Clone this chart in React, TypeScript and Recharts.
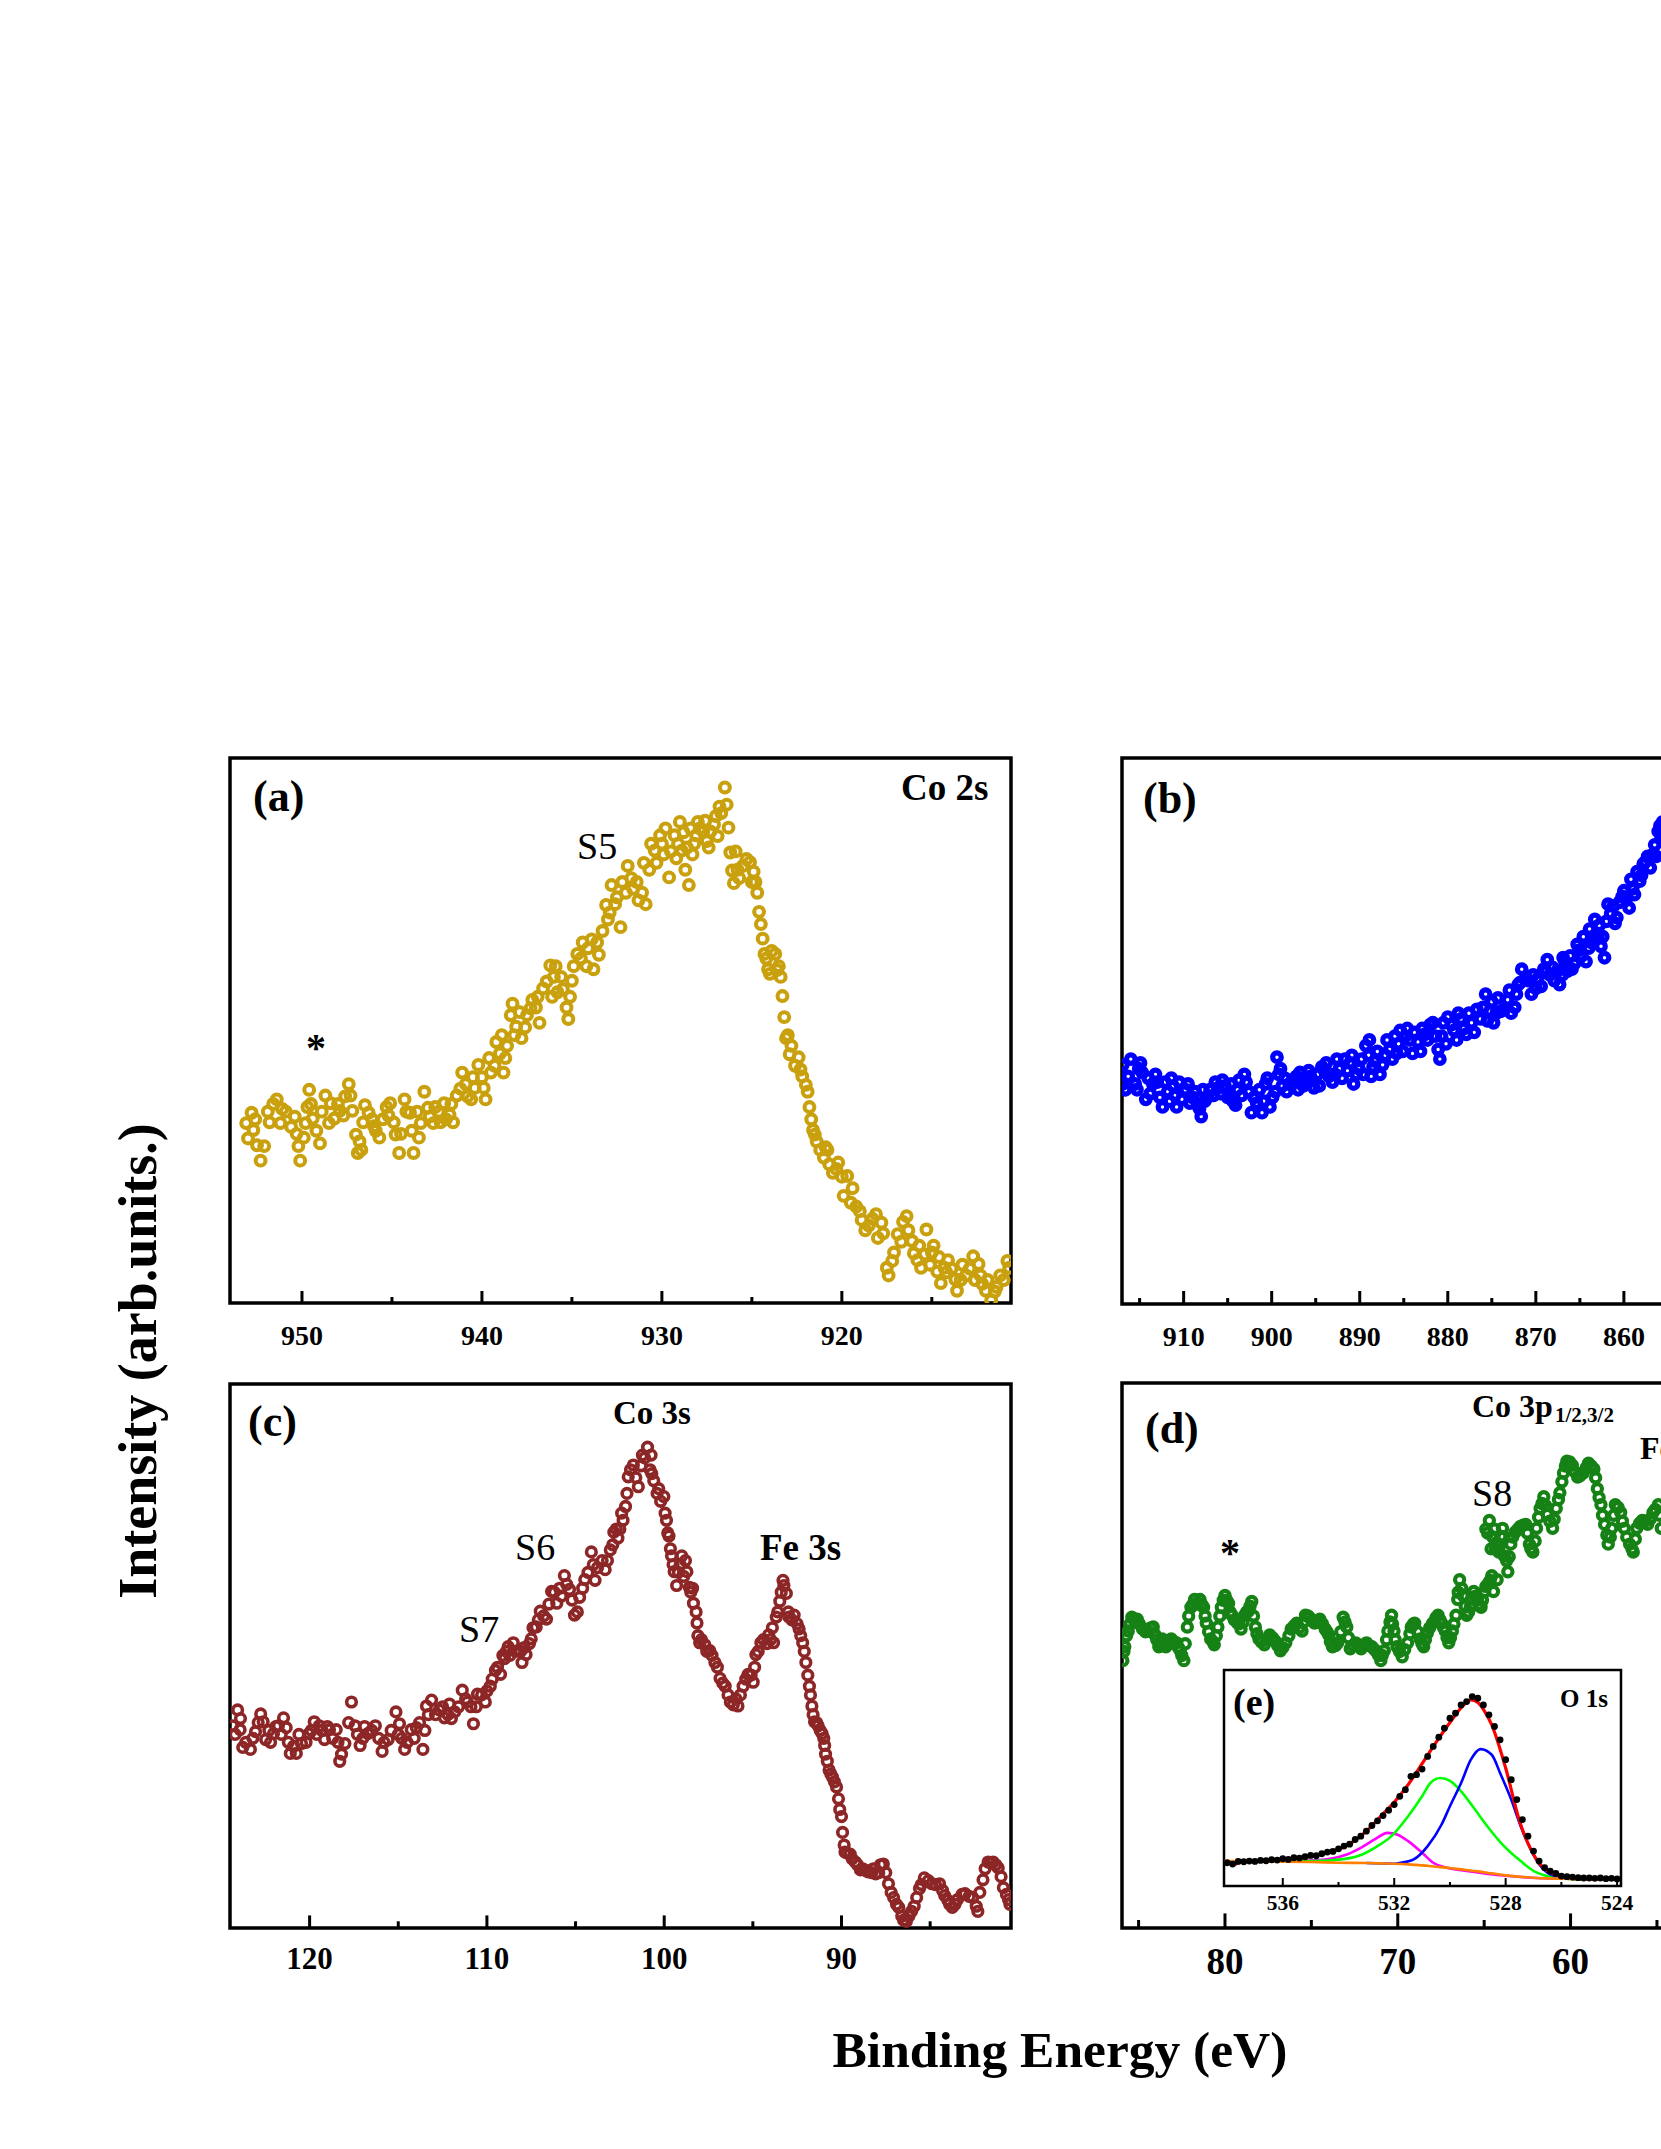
import React from "react";
import {
  ComposedChart,
  Line,
  ReferenceArea,
  Scatter,
  ScatterChart,
  XAxis,
  YAxis,
} from "recharts";

const SERIF = '"Liberation Serif", "Times New Roman", Times, serif';

type Pt = [number, number];

// (a) Co 2s — [binding energy eV, intensity arb.u.]
const CO2S: Pt[] = [
  [953.1, 470], [952.8, 497], [952.7, 452], [952.5, 412], [952.3, 372], [951.8, 472], [951.4, 532], [951.1, 507],
  [950.4, 487], [950.3, 442], [950.1, 372], [949.9, 432], [949.7, 512], [949.6, 557], [949.4, 482], [949.0, 417],
  [948.7, 542], [948.4, 522], [948.2, 482], [947.9, 502], [947.4, 572], [947.3, 542], [947.2, 502], [946.9, 392],
  [946.8, 422], [946.6, 472], [946.5, 517], [946.3, 497], [946.0, 462], [945.7, 432], [945.3, 512], [945.1, 522],
  [944.9, 472], [944.6, 392], [944.5, 442], [944.3, 532], [944.0, 497], [943.8, 392], [943.5, 432], [943.2, 552],
  [942.9, 487], [942.6, 512], [942.3, 472], [942.1, 522], [941.8, 492], [941.6, 472], [941.4, 542], [941.1, 602],
  [940.9, 572], [940.6, 532], [940.4, 562], [940.2, 622], [939.9, 562], [939.8, 532], [939.5, 602], [939.2, 682],
  [939.0, 652], [938.8, 602], [938.6, 672], [938.4, 752], [938.3, 782], [938.1, 722], [937.8, 692], [937.5, 752],
  [937.2, 792], [937.0, 772], [936.8, 732], [936.6, 822], [936.2, 882], [936.0, 852], [935.8, 812], [935.6, 852],
  [935.3, 772], [935.2, 742], [935.0, 842], [934.7, 912], [934.4, 942], [934.1, 927], [933.8, 872], [933.6, 942],
  [933.3, 972], [933.0, 1002], [932.8, 1092], [932.6, 1042], [932.3, 982], [932.0, 1072], [931.9, 1142], [931.6, 1082],
  [931.3, 1052], [931.1, 1072], [930.9, 1042], [930.7, 1132], [930.4, 1182], [930.1, 1222], [929.9, 1172], [929.6, 1112],
  [929.3, 1222], [929.2, 1162], [929.0, 1257], [928.9, 1182], [928.7, 1132], [928.5, 1092], [928.3, 1172], [928.1, 1222],
  [928.0, 1257], [927.7, 1232], [927.5, 1207], [927.3, 1232], [927.0, 1272], [926.8, 1297], [926.5, 1347], [926.4, 1302],
  [926.3, 1242], [926.2, 1177], [926.0, 1097], [925.8, 1132], [925.5, 1142], [925.1, 1152], [924.9, 1127], [924.7, 1072],
  [924.6, 1022], [924.4, 952], [924.3, 912], [924.1, 872], [923.7, 912], [923.4, 852], [923.3, 802], [923.2, 747],
  [923.1, 692], [922.8, 672], [922.4, 642], [922.2, 592], [921.9, 552], [921.8, 512], [921.6, 452], [921.4, 422],
  [920.9, 407], [920.7, 362], [920.2, 367], [919.7, 332], [919.5, 262], [919.2, 252], [918.9, 217], [918.5, 202],
  [918.1, 232], [917.7, 182], [917.5, 92], [917.4, 72], [917.1, 132], [916.6, 212], [916.4, 227], [916.1, 162],
  [915.8, 112], [915.6, 92], [915.4, 127], [915.3, 192], [915.0, 132], [914.7, 82], [914.5, 52], [914.3, 92],
  [914.1, 112], [913.7, 62], [913.6, 32], [913.1, 72], [912.7, 122], [912.4, 102], [912.3, 72], [912.0, 32],
  [911.7, 7], [911.4, 42], [911.2, 72], [910.7, 92],
  [953.0, 430], [952.6, 480], [952.1, 410], [951.9, 500], [951.6, 520], [951.2, 470], [950.9, 500], [950.6, 460],
  [950.2, 410], [949.8, 470], [949.5, 520], [949.2, 450], [948.9, 500], [948.5, 470], [948.0, 520], [947.7, 490],
  [947.6, 540], [947.0, 440], [946.7, 400], [946.1, 480], [945.9, 450], [945.5, 480], [945.2, 490], [944.8, 440],
  [944.2, 500], [943.9, 450], [943.6, 500], [943.4, 470], [943.0, 510], [942.7, 470], [942.4, 500], [942.0, 480],
  [941.7, 520], [941.2, 560], [940.8, 540], [940.5, 590], [940.0, 590], [939.6, 640], [939.3, 620], [938.9, 700],
  [938.7, 640], [938.2, 700], [937.9, 760], [937.6, 720], [937.3, 770], [936.9, 800], [936.4, 840], [936.1, 800],
  [935.9, 880], [935.5, 820], [935.1, 800], [934.9, 880], [934.5, 900], [934.2, 880], [933.9, 950], [933.5, 910],
  [933.1, 1040], [932.9, 1020], [932.5, 1060], [932.2, 1100], [931.7, 1110], [931.4, 1100], [931.0, 1150], [930.6, 1200],
  [930.3, 1150], [930.0, 1200], [929.8, 1240], [929.5, 1180], [929.1, 1200], [928.8, 1230], [928.6, 1190], [928.4, 1240],
  [928.2, 1200], [927.9, 1240], [927.6, 1260], [927.4, 1190], [927.1, 1250], [926.9, 1220], [926.7, 1280], [926.1, 1130],
  [925.9, 1180], [925.7, 1110], [925.3, 1160], [925.0, 1100], [924.8, 1100], [924.5, 990], [924.2, 900], [924.0, 860],
  [923.9, 920], [923.6, 870], [923.5, 880], [923.0, 700], [922.9, 650], [922.6, 620], [922.3, 610], [922.0, 570],
  [921.7, 480], [921.5, 440], [921.2, 400], [921.0, 380], [920.8, 400], [920.5, 340], [920.3, 350], [920.0, 330],
  [919.9, 280], [919.4, 300], [919.0, 240], [918.7, 190], [918.3, 220], [918.0, 170], [917.8, 210], [917.2, 110],
  [916.9, 180], [916.7, 160], [916.3, 190], [916.0, 130], [915.7, 150], [915.1, 100], [914.9, 150], [914.6, 120],
  [914.2, 80], [913.9, 90], [913.4, 60], [913.3, 100], [912.9, 90], [912.6, 60], [912.2, 50], [911.9, 60],
  [911.5, 30], [911.0, 60], [910.8, 110],
];

// (b) Co 2p region, cut at the page edge
const CO2P: Pt[] = [
  [916.9, 625], [916.9, 575], [916.3, 595], [915.5, 575], [915.1, 615], [914.7, 605], [914.3, 535], [913.5, 575],
  [913.0, 580], [912.4, 515], [911.8, 555], [911.4, 590], [911.0, 545], [910.8, 515], [909.8, 560], [909.0, 540],
  [908.4, 520], [908.0, 490], [907.6, 530], [907.0, 560], [906.1, 565], [905.3, 570], [904.9, 550], [904.1, 520],
  [903.7, 585], [902.9, 580], [902.3, 500], [901.7, 525], [901.1, 500], [900.7, 575], [900.2, 515], [899.6, 555],
  [899.4, 645], [899.0, 615], [898.8, 570], [898.0, 575], [897.2, 595], [896.4, 570], [895.6, 595], [895.2, 565],
  [894.3, 620], [893.5, 595], [893.1, 580], [892.3, 615], [891.7, 640], [891.1, 630], [890.7, 575], [890.1, 615],
  [889.3, 675], [888.7, 595], [888.3, 635], [887.4, 625], [886.6, 665], [885.8, 655], [885.4, 715], [884.6, 720],
  [884.0, 655], [883.4, 685], [882.6, 705], [881.7, 735], [881.1, 665], [880.9, 640], [880.5, 735], [879.3, 715],
  [878.5, 745], [877.9, 705], [877.3, 735], [876.3, 745], [875.7, 810], [875.2, 765], [874.8, 735], [874.0, 765],
  [873.2, 795], [872.4, 775], [872.0, 835], [871.6, 875], [870.8, 845], [870.0, 825], [869.1, 875], [868.7, 900],
  [867.9, 845], [867.3, 835], [866.7, 895], [865.9, 875], [865.1, 925], [864.3, 895], [863.7, 945], [863.3, 1005],
  [862.6, 935], [862.2, 905], [861.8, 1045], [861.0, 995], [860.2, 1065], [859.4, 1035], [859.0, 1085], [858.2, 1105],
  [857.6, 1155], [856.7, 1175], [856.1, 1235], [855.8, 1225],
  [916.6, 560], [916.0, 640], [915.3, 560], [914.9, 630], [914.0, 590], [913.8, 550], [913.2, 600], [912.7, 540],
  [912.1, 580], [911.6, 530], [911.2, 570], [910.5, 580], [910.2, 535], [909.5, 575], [909.3, 525], [908.7, 555],
  [908.2, 510], [907.8, 560], [907.3, 540], [906.6, 545], [906.4, 580], [905.8, 550], [905.6, 585], [905.0, 540],
  [904.6, 575], [904.4, 530], [903.9, 560], [903.4, 545], [903.1, 600], [902.6, 555], [902.0, 540], [901.4, 560],
  [900.9, 530], [900.5, 590], [899.9, 540], [899.2, 600], [898.5, 590], [898.3, 555], [897.6, 580], [897.0, 560],
  [896.8, 605], [896.0, 580], [895.8, 610], [895.4, 585], [894.8, 600], [894.6, 570], [894.0, 610], [893.8, 630],
  [893.3, 600], [892.8, 600], [892.6, 640], [892.0, 590], [891.4, 610], [890.9, 650], [890.4, 600], [889.8, 640],
  [889.6, 600], [889.0, 650], [888.9, 690], [888.5, 620], [888.0, 660], [887.7, 600], [887.1, 650], [886.9, 690],
  [886.3, 640], [886.0, 700], [885.6, 680], [885.1, 660], [884.8, 700], [884.3, 690], [883.8, 710], [883.1, 660],
  [882.9, 720], [882.3, 690], [882.0, 730], [881.4, 700], [880.7, 700], [880.2, 680], [880.0, 750], [879.6, 730],
  [879.0, 690], [878.8, 760], [878.2, 720], [877.6, 760], [877.0, 710], [876.7, 770], [876.0, 775], [875.5, 740],
  [875.0, 790], [874.5, 760], [874.3, 800], [873.6, 770], [873.0, 820], [872.8, 760], [872.2, 810], [871.8, 840],
  [871.2, 850], [870.5, 810], [870.3, 860], [869.8, 850], [869.4, 830], [868.9, 870], [868.4, 860], [868.1, 880],
  [867.6, 870], [867.0, 860], [866.9, 905], [866.4, 870], [866.1, 910], [865.6, 890], [865.3, 940], [864.8, 910],
  [864.6, 960], [864.0, 930], [863.9, 980], [863.5, 960], [863.0, 960], [862.8, 990], [862.4, 960], [862.0, 1000],
  [861.5, 1020], [861.2, 1040], [860.8, 1010], [860.5, 1050], [860.0, 1080], [859.7, 1060], [859.2, 1110], [858.8, 1070],
  [858.5, 1130], [858.0, 1120], [857.8, 1150], [857.3, 1170], [857.0, 1140], [856.5, 1200], [856.3, 1170], [855.9, 1250],
  [855.6, 1260],
];

// (c) Co 3s / Fe 3s
const CO3S: Pt[] = [
  [124.35, 512], [124.06, 552], [123.92, 502], [123.77, 457], [123.34, 452], [123.05, 497], [122.76, 542], [122.62, 522],
  [122.48, 477], [122.04, 492], [121.76, 512], [121.47, 532], [121.32, 507], [121.09, 442], [120.75, 442], [120.46, 467],
  [120.03, 492], [119.74, 522], [119.45, 512], [119.16, 477], [118.88, 502], [118.5, 502], [118.3, 422], [118.01, 467],
  [117.64, 572], [117.44, 512], [117.15, 462], [116.72, 492], [116.29, 512], [115.91, 447], [115.57, 477], [115.13, 547],
  [114.93, 517], [114.64, 452], [114.27, 502], [113.98, 507], [113.61, 452], [113.41, 562], [113.12, 577], [112.69, 552],
  [112.4, 532], [112.11, 567], [111.82, 547], [111.39, 602], [111.1, 572], [110.76, 517], [110.53, 592], [110.09, 572],
  [109.81, 612], [109.52, 652], [109.23, 642], [109.0, 682], [108.8, 712], [108.51, 722], [108.22, 702], [108.02, 672],
  [107.79, 692], [107.5, 732], [107.22, 762], [106.99, 802], [106.64, 782], [106.35, 852], [106.06, 822], [105.63, 892],
  [105.34, 857], [105.06, 792], [104.77, 837], [104.48, 882], [104.11, 952], [103.76, 912], [103.33, 907], [103.04, 957],
  [102.84, 1002], [102.61, 987], [102.32, 1032], [102.18, 1067], [102.03, 1142], [101.74, 1172], [101.46, 1117], [101.23, 1197],
  [100.94, 1217], [100.74, 1197], [100.59, 1132], [100.31, 1112], [100.02, 1092], [99.87, 1032], [99.73, 992], [99.59, 942],
  [99.44, 902], [99.3, 867], [99.01, 942], [98.72, 902], [98.58, 862], [98.35, 822], [98.15, 772], [98.0, 722],
  [97.71, 717], [97.43, 702], [97.14, 672], [96.85, 632], [96.56, 612], [96.27, 572], [95.84, 562], [95.55, 612],
  [95.27, 642], [94.98, 622], [94.83, 692], [94.55, 722], [94.11, 742], [93.83, 722], [93.68, 787], [93.48, 827],
  [93.25, 867], [93.11, 847], [92.96, 787], [92.67, 792], [92.39, 757], [92.19, 722], [92.01, 672], [91.81, 612],
  [91.67, 562], [91.52, 522], [91.32, 512], [91.09, 492], [90.95, 462], [90.8, 422], [90.51, 382], [90.28, 357],
  [90.17, 327], [90.0, 282], [89.94, 242], [89.8, 192], [89.51, 187], [89.22, 167], [88.93, 147], [88.5, 142],
  [88.07, 137], [87.64, 162], [87.35, 112], [87.06, 77], [86.77, 52], [86.34, 17], [86.05, 42], [85.76, 77],
  [85.33, 127], [84.9, 112], [84.47, 112], [84.18, 82], [83.75, 52], [83.46, 72], [83.03, 87], [82.6, 77],
  [82.31, 42], [82.02, 122], [81.73, 167], [81.45, 167], [81.16, 152], [80.87, 102], [80.58, 72],
  [124.2, 490], [123.9, 530], [123.6, 470], [123.2, 480], [122.9, 520], [122.3, 500], [122.2, 470], [121.9, 510],
  [121.6, 490], [121.2, 470], [120.9, 460], [120.6, 490], [120.2, 470], [119.9, 500], [119.6, 490], [119.3, 500],
  [119.0, 510], [118.7, 480], [118.4, 470], [118.2, 440], [117.8, 520], [117.3, 490], [117.0, 480], [116.9, 510],
  [116.5, 500], [116.1, 480], [115.8, 470], [115.4, 500], [115.0, 490], [114.8, 480], [114.5, 470], [114.1, 480],
  [113.8, 520], [113.5, 500], [113.3, 540], [112.9, 540], [112.5, 560], [112.2, 540], [112.0, 530], [111.6, 560],
  [111.2, 580], [110.9, 560], [110.6, 560], [110.3, 590], [110.0, 600], [109.7, 630], [109.4, 660], [109.1, 690],
  [108.9, 700], [108.7, 690], [108.4, 700], [108.1, 700], [107.9, 710], [107.6, 720], [107.4, 760], [107.1, 780],
  [106.8, 790], [106.5, 820], [106.2, 850], [105.9, 860], [105.8, 840], [105.5, 870], [105.2, 830], [104.9, 800],
  [104.6, 860], [104.3, 900], [104.0, 920], [103.9, 880], [103.5, 930], [103.2, 930], [102.9, 970], [102.7, 1010],
  [102.5, 1010], [102.4, 1050], [102.1, 1100], [101.9, 1160], [101.6, 1140], [101.3, 1170], [101.1, 1190], [100.8, 1160],
  [100.7, 1150], [100.4, 1100], [100.2, 1080], [99.95, 1050], [99.8, 1000], [99.65, 960], [99.5, 920], [99.2, 900],
  [99.1, 920], [98.9, 890], [98.8, 930], [98.5, 850], [98.4, 860], [98.2, 800], [98.1, 740], [97.9, 730],
  [97.6, 700], [97.3, 690], [97.0, 660], [96.7, 620], [96.4, 590], [96.1, 565], [95.95, 580], [95.7, 590],
  [95.4, 630], [95.1, 640], [94.9, 660], [94.7, 700], [94.4, 730], [94.2, 720], [94.0, 730], [93.9, 760],
  [93.6, 800], [93.4, 850], [93.3, 880], [93.0, 800], [92.8, 780], [92.5, 770], [92.3, 740], [92.1, 700],
  [91.9, 640], [91.75, 590], [91.6, 540], [91.4, 520], [91.2, 500], [91.0, 480], [90.9, 440], [90.7, 400],
  [90.6, 390], [90.4, 370], [90.1, 300], [89.85, 210], [89.7, 190], [89.4, 175], [89.1, 160], [88.8, 150],
  [88.6, 145], [88.3, 140], [88.2, 150], [87.9, 140], [87.8, 160], [87.5, 140], [87.2, 90], [86.9, 60],
  [86.6, 30], [86.5, 20], [86.2, 30], [85.9, 55], [85.6, 100], [85.5, 110], [85.1, 120], [84.7, 110],
  [84.3, 95], [84.0, 70], [83.9, 60], [83.6, 60], [83.2, 85], [82.8, 80], [82.4, 55], [82.2, 90],
  [81.9, 150], [81.6, 165], [81.3, 160], [81.0, 130], [80.7, 85], [80.5, 60],
];

// (d) Co 3p / Fe 3p
const CO3P: Pt[] = [
  [85.91, 677], [85.8, 712], [85.6, 752], [85.39, 787], [85.08, 782], [84.77, 757], [84.46, 752], [84.15, 762],
  [84.04, 742], [83.83, 712], [83.63, 732], [83.42, 712], [83.11, 732], [82.8, 722], [82.59, 702], [82.38, 677],
  [82.18, 762], [81.97, 812], [81.76, 832], [81.45, 832], [81.24, 812], [81.08, 772], [80.83, 732], [80.62, 717],
  [80.41, 762], [80.21, 812], [80.0, 842], [79.79, 822], [79.59, 792], [79.27, 772], [79.07, 757], [78.86, 792],
  [78.65, 802], [78.45, 827], [78.24, 762], [78.03, 732], [77.72, 717], [77.41, 742], [77.1, 727], [76.79, 702],
  [76.48, 722], [76.17, 757], [75.85, 772], [75.54, 752], [75.34, 792], [75.13, 787], [74.82, 772], [74.51, 782],
  [74.2, 757], [73.99, 742], [73.78, 712], [73.47, 722], [73.16, 787], [72.95, 762], [72.75, 707], [72.44, 722],
  [72.12, 707], [71.81, 722], [71.5, 712], [71.19, 697], [70.98, 677], [70.78, 702], [70.57, 752], [70.36, 792],
  [70.22, 752], [70.05, 712], [69.74, 687], [69.43, 722], [69.22, 762], [69.02, 772], [68.7, 732], [68.5, 712],
  [68.29, 747], [67.98, 772], [67.67, 792], [67.46, 772], [67.25, 752], [67.05, 722], [66.84, 752], [66.63, 792],
  [66.53, 832], [66.42, 882], [66.22, 842], [66.01, 792], [65.8, 812], [65.6, 852], [65.39, 832], [65.18, 812],
  [64.97, 852], [64.77, 872], [64.56, 892], [64.46, 852], [64.25, 882], [64.8, 1000], [64.7, 1032], [64.6, 960],
  [64.4, 1010], [64.3, 975], [64.15, 952], [64.04, 992], [63.94, 1012], [63.83, 942], [63.63, 902], [63.46, 972],
  [63.21, 1002], [62.9, 1017], [62.59, 1022], [62.38, 972], [62.18, 952], [61.97, 1012], [61.76, 1062], [61.55, 1092],
  [61.35, 1047], [61.04, 1012], [60.83, 1062], [60.62, 1102], [60.41, 1152], [60.21, 1182], [59.9, 1172], [59.59, 1142],
  [59.27, 1152], [58.96, 1177], [58.65, 1162], [58.45, 1112], [58.24, 1072], [58.03, 1022], [57.82, 972], [57.62, 1012],
  [57.41, 1072], [57.1, 1052], [56.89, 1012], [56.58, 972], [56.37, 952], [56.17, 1012], [55.85, 1032], [55.54, 1022],
  [55.23, 1052], [54.92, 1072], [54.75, 1012],
  [85.85, 700], [85.7, 740], [85.5, 770], [85.25, 780], [84.95, 770], [84.6, 750], [84.3, 760], [83.95, 730],
  [83.7, 720], [83.5, 725], [83.25, 720], [82.95, 725], [82.7, 710], [82.5, 690], [82.3, 720], [82.1, 790],
  [81.85, 820], [81.6, 820], [81.35, 820], [81.15, 790], [80.95, 750], [80.7, 725], [80.5, 740], [80.3, 790],
  [80.1, 830], [79.9, 830], [79.7, 800], [79.45, 780], [79.2, 770], [78.95, 775], [78.75, 800], [78.55, 815],
  [78.35, 790], [78.15, 745], [77.9, 725], [77.55, 730], [77.25, 735], [76.95, 715], [76.65, 710], [76.3, 740],
  [76.0, 765], [75.7, 760], [75.45, 775], [75.2, 790], [74.95, 780], [74.65, 775], [74.35, 770], [74.1, 750],
  [73.9, 725], [73.6, 715], [73.3, 750], [73.05, 775], [72.85, 735], [72.6, 715], [72.3, 715], [71.95, 715],
  [71.65, 715], [71.35, 705], [71.1, 690], [70.9, 690], [70.65, 730], [70.45, 775], [70.3, 770], [70.15, 730],
  [69.9, 700], [69.6, 705], [69.3, 745], [69.1, 770], [68.85, 750], [68.6, 720], [68.4, 730], [68.15, 760],
  [67.8, 785], [67.55, 780], [67.35, 760], [67.15, 735], [66.95, 735], [66.75, 770], [66.5, 850], [66.3, 860],
  [66.1, 815], [65.9, 800], [65.7, 835], [65.5, 840], [65.3, 820], [65.1, 830], [64.9, 865], [64.65, 880],
  [64.9, 1010], [64.5, 990], [64.35, 960], [64.1, 970], [63.9, 990], [63.7, 930], [63.55, 940], [63.35, 990],
  [63.05, 1010], [62.75, 1020], [62.5, 1000], [62.3, 960], [62.05, 980], [61.85, 1040], [61.65, 1075], [61.45, 1070],
  [61.2, 1030], [60.95, 1035], [60.7, 1085], [60.5, 1130], [60.3, 1170], [60.05, 1180], [59.75, 1155], [59.45, 1145],
  [59.1, 1165], [58.8, 1170], [58.55, 1140], [58.35, 1090], [58.15, 1045], [57.9, 995], [57.7, 990], [57.5, 1045],
  [57.25, 1065], [57.0, 1030], [56.75, 990], [56.45, 960], [56.25, 985], [56.0, 1025], [55.7, 1030], [55.4, 1035],
  [55.1, 1060], [54.85, 1045],
];

// (e) O 1s inset: measured points, fit envelope, three components, background
const O1S_DATA: Pt[] = [
  [538.0, 70], [537.8, 66], [537.6, 74], [537.4, 73], [537.2, 75], [537.0, 74], [536.8, 77], [536.6, 76],
  [536.4, 79], [536.2, 78], [536.0, 82], [535.8, 80], [535.6, 85], [535.4, 84], [535.2, 88], [535.0, 92],
  [534.8, 91], [534.6, 97], [534.4, 102], [534.2, 104], [534.0, 112], [533.8, 120], [533.6, 126], [533.4, 140],
  [533.2, 150], [533.0, 165], [532.8, 182], [532.6, 196], [532.4, 212], [532.2, 228], [532.0, 245], [531.8, 270],
  [531.6, 290], [531.4, 330], [531.2, 335], [531.0, 352], [530.8, 390], [530.6, 420], [530.4, 448], [530.2, 475],
  [530.0, 505], [529.8, 520], [529.6, 545], [529.4, 555], [529.2, 570], [529.0, 565], [528.8, 545], [528.6, 515],
  [528.4, 480], [528.2, 440], [528.0, 380], [527.8, 320], [527.6, 260], [527.4, 200], [527.2, 150], [527.0, 105],
  [526.8, 75], [526.6, 55], [526.4, 45], [526.2, 38], [526.0, 30], [525.8, 28], [525.6, 27], [525.4, 25],
  [525.2, 24], [525.0, 24], [524.8, 23], [524.6, 24], [524.4, 22], [524.2, 23], [524.0, 21],
];
const O1S_FIT: Pt[] = [
  [538.1, 72], [537.9, 70], [537.7, 66], [537.5, 74], [537.0, 76], [536.5, 78], [536.0, 81], [535.5, 84],
  [535.0, 89], [534.5, 97], [534.0, 110], [533.5, 132], [533.0, 165], [532.5, 208], [532.0, 252], [531.5, 305],
  [531.0, 368], [530.5, 432], [530.0, 492], [529.5, 545], [529.25, 560], [529.0, 552], [528.75, 525], [528.5, 485],
  [528.0, 355], [527.5, 195], [527.0, 95], [526.5, 45], [526.0, 30], [525.5, 24], [525.0, 22], [524.5, 21], [523.9, 20],
];
const O1S_LATTICE: Pt[] = [
  [533.0, 69], [532.0, 67], [531.76, 70], [531.3, 80], [530.8, 120], [530.3, 185], [530.0, 240], [529.6, 310],
  [529.25, 380], [528.9, 412], [528.5, 395], [528.2, 340], [527.8, 260], [527.46, 180], [527.1, 110], [526.75, 60],
  [526.4, 35], [525.9, 25], [525.3, 20], [523.9, 20],
];
const O1S_DEFECT: Pt[] = [
  [536.06, 75], [534.9, 75], [533.9, 80], [533.3, 90], [532.7, 115], [532.1, 150], [531.5, 210], [531.0, 270],
  [530.7, 310], [530.35, 325], [529.97, 315], [529.6, 285], [529.1, 230], [528.66, 180], [528.06, 120], [527.46, 75],
  [526.99, 45], [526.5, 30], [525.9, 23], [525.3, 20], [523.9, 20],
];
const O1S_HYDROXYL: Pt[] = [
  [536.06, 75], [534.9, 77], [534.3, 82], [533.7, 95], [533.2, 115], [532.7, 140], [532.24, 160], [531.9, 155],
  [531.5, 135], [531.0, 100], [530.6, 70], [530.1, 55], [529.4, 45], [528.7, 37], [527.9, 30], [527.1, 25], [526.0, 22],
];
const O1S_BG: Pt[] = [
  [538.1, 75], [537.0, 74], [536.0, 73], [535.0, 72], [534.0, 70], [533.0, 69], [532.5, 68], [532.0, 67],
  [531.5, 65], [531.0, 62], [530.5, 58], [530.0, 54], [529.5, 49], [529.0, 44], [528.5, 38], [528.0, 32],
  [527.5, 28], [527.0, 25], [526.5, 23], [526.0, 22], [525.0, 20], [523.9, 20],
];

// tick values (only the ones that fall inside the page)
const A_X_MAJOR = [950, 940, 930, 920];
const A_X_MINOR = [945, 935, 925, 915];
const A_Y_MAJOR = [210, 420, 630, 840, 1050, 1260];
const A_Y_MINOR = [105, 315, 525, 735, 945, 1155, 1365];
const B_X_MAJOR = [910, 900, 890, 880, 870, 860];
const B_X_MINOR = [915, 905, 895, 885, 875, 865];
const B_Y_MAJOR = [225, 447, 670, 892, 1115, 1340];
const B_Y_MINOR = [115, 335, 557, 780, 1003, 1225];
const C_X_MAJOR = [120, 110, 100, 90];
const C_X_MINOR = [115, 105, 95, 85];
const C_Y_MAJOR = [109, 309, 510, 712, 914, 1115, 1317];
const D_X_MAJOR = [80, 70, 60];
const D_X_MINOR = [85, 75, 65, 55];
const D_Y_MAJOR = [52, 290, 527, 764, 1002, 1237];
const E_X_MAJOR = [536, 532, 528, 524];
const E_X_MINOR = [534, 530, 526];
const E_Y_MINOR = [55, 144, 233, 323, 412, 502, 592];

const xy = (pts: Pt[]) => pts.map(([x, y]) => ({ x, y }));

type TickCfg = { major: number[]; majLen: number; minLen: number; sw: number; font: number; dy: number };

const xTick = (c: TickCfg) => (t: any) => {
  const v = t.payload.value;
  const isMajor = c.major.includes(v);
  return (
    <g>
      <line x1={t.x} x2={t.x} y1={t.y} y2={t.y - (isMajor ? c.majLen : c.minLen)} stroke="#000" strokeWidth={c.sw} />
      {isMajor ? (
        <text x={t.x} y={t.y + c.dy} textAnchor="middle" dominantBaseline="central"
          fontFamily={SERIF} fontWeight={700} fontSize={c.font} fill="#000">{v}</text>
      ) : null}
    </g>
  );
};

const yTick = (c: TickCfg) => (t: any) => {
  const isMajor = c.major.includes(t.payload.value);
  return (
    <line x1={t.x} x2={t.x + (isMajor ? c.majLen : c.minLen)} y1={t.y} y2={t.y} stroke="#000" strokeWidth={c.sw} />
  );
};

type PanelProps = {
  left: number; top: number; w: number; h: number;
  xDomain: [number, number]; yMax: number;
  xMajor: number[]; xMinor: number[]; yMajor: number[]; yMinor: number[];
  xLen: [number, number]; yLen: [number, number];
  font: number; dy: number;
  data: Pt[]; color: string; r: number; sw: number;
};

function Panel(p: PanelProps) {
  const M = 8;
  const axisH = 60;
  return (
    <div style={{ position: "absolute", left: p.left - M, top: p.top - M }}>
      <ScatterChart width={p.w + 2 * M} height={p.h + 2 * M + axisH} margin={{ top: M, right: M, bottom: M, left: M }}>
        <XAxis type="number" dataKey="x" domain={p.xDomain} reversed allowDataOverflow
          ticks={[...p.xMajor, ...p.xMinor]} interval={0} axisLine={false} tickLine={false}
          tickSize={0} tickMargin={0} height={axisH}
          tick={xTick({ major: p.xMajor, majLen: p.xLen[0], minLen: p.xLen[1], sw: 3, font: p.font, dy: p.dy })} />
        <YAxis type="number" dataKey="y" domain={[0, p.yMax]} allowDataOverflow
          ticks={[...p.yMajor, ...p.yMinor]} interval={0} axisLine={false} tickLine={false}
          tickSize={0} tickMargin={0} width={0}
          tick={yTick({ major: p.yMajor, majLen: p.yLen[0], minLen: p.yLen[1], sw: 3, font: 0, dy: 0 })} />
        <ReferenceArea x1={p.xDomain[0]} x2={p.xDomain[1]} y1={0} y2={p.yMax}
          fill="none" stroke="#000" strokeWidth={3.5} ifOverflow="visible" />
        <Scatter data={xy(p.data)} isAnimationActive={false}
          shape={(s: any) => <circle cx={s.cx} cy={s.cy} r={p.r} fill="none" stroke={p.color} strokeWidth={p.sw} />} />
      </ScatterChart>
    </div>
  );
}

function Inset() {
  const left = 1224, top = 1670, w = 397, h = 216;
  const M = 6, R = 30, axisH = 40;
  const xDomain: [number, number] = [523.86, 538.11];
  return (
    <>
      <div style={{ position: "absolute", left, top, width: w, height: h, background: "#fff" }} />
      <div style={{ position: "absolute", left: left - M, top: top - M }}>
        <ComposedChart width={w + M + R} height={h + 2 * M + axisH} margin={{ top: M, right: R, bottom: M, left: M }}>
          <XAxis type="number" dataKey="x" domain={xDomain} reversed allowDataOverflow
            ticks={[...E_X_MAJOR, ...E_X_MINOR]} interval={0} axisLine={false} tickLine={false}
            tickSize={0} tickMargin={0} height={axisH}
            tick={xTick({ major: E_X_MAJOR, majLen: 8, minLen: 4, sw: 2, font: 21.5, dy: 17 })} />
          <YAxis type="number" dataKey="y" domain={[0, 650]} allowDataOverflow
            ticks={E_Y_MINOR} interval={0} axisLine={false} tickLine={false}
            tickSize={0} tickMargin={0} width={0}
            tick={yTick({ major: [], majLen: 5, minLen: 5, sw: 2, font: 0, dy: 0 })} />
          <ReferenceArea x1={xDomain[0]} x2={xDomain[1]} y1={0} y2={650}
            fill="none" stroke="#000" strokeWidth={2.5} ifOverflow="visible" />
          <Line data={xy(O1S_HYDROXYL)} dataKey="y" type="monotone" stroke="#FF00FF" strokeWidth={2.6} dot={false} isAnimationActive={false} />
          <Line data={xy(O1S_DEFECT)} dataKey="y" type="monotone" stroke="#00FF00" strokeWidth={2.6} dot={false} isAnimationActive={false} />
          <Line data={xy(O1S_LATTICE)} dataKey="y" type="monotone" stroke="#0000FF" strokeWidth={2.6} dot={false} isAnimationActive={false} />
          <Line data={xy(O1S_BG)} dataKey="y" type="monotone" stroke="#FF8000" strokeWidth={2.6} dot={false} isAnimationActive={false} />
          <Scatter data={xy(O1S_DATA)} isAnimationActive={false}
            shape={(s: any) => <circle cx={s.cx} cy={s.cy} r={3.4} fill="#000" />} />
          <Line data={xy(O1S_FIT)} dataKey="y" type="monotone" stroke="#FF0000" strokeWidth={3.2} dot={false} isAnimationActive={false} />
        </ComposedChart>
      </div>
    </>
  );
}

const T = (props: any) => <text fontFamily={SERIF} fill="#000" {...props} />;

export default function App() {
  return (
    <div style={{ position: "absolute", left: 0, top: 0, width: 1661, height: 2149, overflow: "hidden", background: "#fff" }}>
      <Panel left={230} top={758} w={781} h={545} xDomain={[910.6, 954.0]} yMax={1424}
        xMajor={A_X_MAJOR} xMinor={A_X_MINOR} yMajor={A_Y_MAJOR} yMinor={A_Y_MINOR}
        xLen={[12, 6]} yLen={[14, 8]} font={28} dy={32}
        data={CO2S} color="#C9A00D" r={4.9} sw={4.1} />
      <Panel left={1122} top={758} w={781} h={546} xDomain={[828.3, 917.0]} yMax={1427}
        xMajor={B_X_MAJOR} xMinor={B_X_MINOR} yMajor={B_Y_MAJOR} yMinor={B_Y_MINOR}
        xLen={[13, 6]} yLen={[15, 6.5]} font={28} dy={32}
        data={CO2P} color="#0000FF" r={4.3} sw={5.2} />
      <Panel left={230} top={1384} w={781} h={544} xDomain={[80.44, 124.49]} yMax={1377}
        xMajor={C_X_MAJOR} xMinor={C_X_MINOR} yMajor={C_Y_MAJOR} yMinor={[]}
        xLen={[12.6, 6.7]} yLen={[12.7, 12.7]} font={31} dy={30}
        data={CO3S} color="#8D2626" r={4.8} sw={3.6} />
      <Panel left={1122} top={1383} w={781} h={545} xDomain={[40.76, 85.96]} yMax={1380}
        xMajor={D_X_MAJOR} xMinor={D_X_MINOR} yMajor={D_Y_MAJOR} yMinor={[]}
        xLen={[14.6, 8]} yLen={[15, 15]} font={37} dy={33}
        data={CO3P} color="#168216" r={4.6} sw={4.2} />
      <Inset />
      <svg width={1661} height={2149} style={{ position: "absolute", left: 0, top: 0, pointerEvents: "none" }}>
        <T x={1060} y={2049} textAnchor="middle" dominantBaseline="central" fontSize={51.5} fontWeight={700}>Binding Energy (eV)</T>
        <T transform="translate(138,1361) rotate(-90)" textAnchor="middle" dominantBaseline="central" fontSize={54} fontWeight={700}>Intensity (arb.units.)</T>

        <T x={253} y={811} fontSize={44} fontWeight={700}>(a)</T>
        <T x={901} y={800} fontSize={37} fontWeight={700}>Co 2s</T>
        <T x={577} y={859} fontSize={38}>S5</T>
        <T x={316} y={1061} fontSize={40} fontWeight={700} textAnchor="middle">*</T>

        <T x={1143} y={813} fontSize={44} fontWeight={700}>(b)</T>

        <T x={248} y={1436} fontSize={44} fontWeight={700}>(c)</T>
        <T x={613} y={1424} fontSize={33} fontWeight={700}>Co 3s</T>
        <T x={515} y={1560} fontSize={38}>S6</T>
        <T x={459} y={1642} fontSize={38}>S7</T>
        <T x={760} y={1560} fontSize={37} fontWeight={700}>Fe 3s</T>

        <T x={1145} y={1443} fontSize={44} fontWeight={700}>(d)</T>
        <T x={1472} y={1417} fontSize={32} fontWeight={700}>
          Co 3p<tspan x={1555} y={1422} fontSize={21}>1/2,3/2</tspan>
        </T>
        <T x={1640} y={1459} fontSize={32} fontWeight={700}>Fe 3p</T>
        <T x={1472} y={1506} fontSize={38}>S8</T>
        <T x={1230} y={1566} fontSize={40} fontWeight={700} textAnchor="middle">*</T>

        <T x={1233} y={1715} fontSize={38} fontWeight={700}>(e)</T>
        <T x={1560} y={1707} fontSize={25} fontWeight={700}>O 1s</T>
      </svg>
    </div>
  );
}
